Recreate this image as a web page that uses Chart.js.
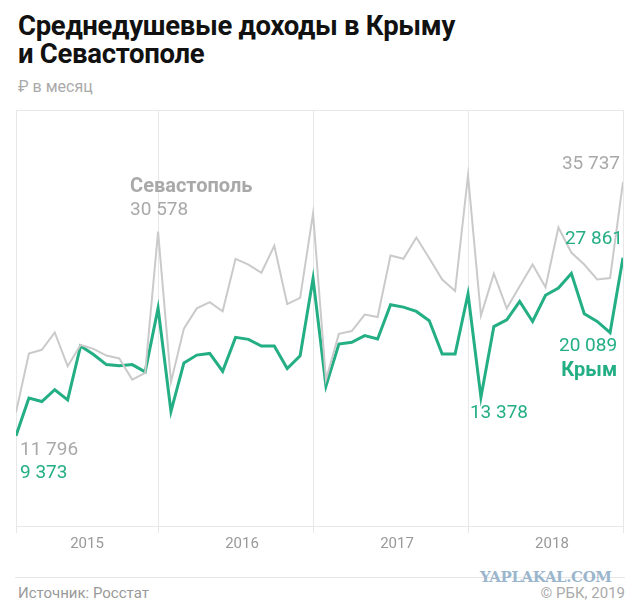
<!DOCTYPE html>
<html lang="ru">
<head>
<meta charset="utf-8">
<script src="https://cdn.jsdelivr.net/npm/chart.js@4"></script>
<style>
  body { margin: 0; background: #fff; font-family: Roboto, "Noto Sans", sans-serif; }
  #wrap { position: relative; width: 640px; height: 612px; overflow: hidden; }
  #title { position: absolute; left: 18px; top: 12px; font-size: 27.5px; font-weight: 700; line-height: 28px; color: #111; letter-spacing: -0.3px; }
  #sub { position: absolute; left: 18px; top: 77px; font-size: 16px; color: #aaa; }
  #chartBox { position: absolute; left: 0; top: 100px; width: 640px; height: 458px; }
  #sep { position: absolute; left: 15px; top: 577px; width: 610px; height: 1px; background: #e6e6e6; }
  #src { position: absolute; left: 18px; top: 584px; font-size: 15px; color: #999; }
  #copy { position: absolute; right: 15px; top: 584px; font-size: 15px; color: #aaa; }
  #wm { position: absolute; left: 480px; top: 568px; font-size: 15px; font-weight: 700; color: #9bb6cc; font-family: "DejaVu Serif", serif; letter-spacing: -0.4px; }
</style>
</head>
<body>
<div id="wrap">
  <div id="title">Среднедушевые доходы в Крыму<br>и Севастополе</div>
  <div id="sub">₽ в месяц</div>
  <div id="chartBox"><canvas id="chart" width="640" height="458"></canvas></div>
  <div id="sep"></div>
  <div id="src">Источник: Росстат</div>
  <div id="wm">YAPLAKAL.COM</div>
  <div id="copy">© РБК, 2019</div>
</div>
<script>
// помесячно, январь 2015 — декабрь 2018
var years = ['2015', '2016', '2017', '2018'];
var sevastopol = [
  11796, 17900, 18300, 20100, 16600, 18800, 18400, 17700, 17400, 15200, 15900, 30578,
  14950, 20500, 22600, 23250, 22300, 27750, 27150, 26300, 29100, 23050, 23700, 32450,
  15200, 19950, 20250, 21950, 21700, 28100, 27750, 29950, 27800, 25600, 24400, 36400,
  21850, 26200, 22600, 24900, 27150, 24800, 31000, 28400, 27150, 25600, 25750, 35737
];
var crimea = [
  9373, 13280, 12930, 14150, 13100, 18690, 17800, 16760, 16630, 16760, 16000, 22630,
  11890, 16940, 17750, 17920, 16070, 19590, 19380, 18690, 18690, 16350, 17680, 25700,
  14540, 18900, 19070, 19770, 19420, 22980, 22730, 22280, 21310, 17850, 17850, 24100,
  13378, 20710, 21410, 23330, 21240, 23960, 24720, 26230, 22040, 21240, 20089, 27861
];

var green = '#24ae84';
var grayLine = '#cacaca';
var grayText = '#a9a9a9';

function pts(arr) {
  return arr.map(function(v, i) { return { x: i, y: v }; });
}

// подписи у точек
var notes = [
  { ds: 0, i: 11, text: 'Севастополь', dx: -28, dy: -45, align: 'left', bold: true, color: grayText },
  { ds: 0, i: 11, text: '30 578', dx: -28, dy: -21, align: 'left', color: grayText },
  { ds: 0, i: 47, text: '35 737', dx: -3, dy: -18, align: 'right', color: grayText },
  { ds: 1, i: 47, text: '27 861', dx: 0, dy: -18, align: 'right', color: green },
  { ds: 1, i: 46, text: '20 089', dx: 7, dy: 14, align: 'right', color: green },
  { ds: 1, i: 46, text: 'Крым', dx: 7, dy: 38, align: 'right', bold: true, color: green },
  { ds: 1, i: 36, text: '13 378', dx: -11, dy: 16, align: 'left', color: green },
  { ds: 0, i: 0, text: '11 796', dx: 4, dy: 38, align: 'left', color: grayText },
  { ds: 1, i: 0, text: '9 373', dx: 4, dy: 38, align: 'left', color: green }
];

var notesPlugin = {
  id: 'notes',
  afterDatasetsDraw: function(chart) {
    var ctx = chart.ctx;
    var xs = chart.scales.x, ys = chart.scales.y;
    ctx.save();
    ctx.textBaseline = 'middle';
    notes.forEach(function(n) {
      var v = chart.data.datasets[n.ds].data[n.i];
      var px = xs.getPixelForValue(v.x) + n.dx;
      var py = ys.getPixelForValue(v.y) + n.dy;
      ctx.font = n.bold ? '700 20px Roboto' : '400 19px Roboto';
      ctx.fillStyle = n.color;
      ctx.textAlign = n.align;
      ctx.fillText(n.text, px, py);
    });
    ctx.restore();
  }
};

new Chart(document.getElementById('chart'), {
  type: 'line',
  data: {
    datasets: [
      { label: 'Севастополь', data: pts(sevastopol), borderColor: grayLine, borderWidth: 2, pointRadius: 0, tension: 0 },
      { label: 'Крым', data: pts(crimea), borderColor: green, borderWidth: 3, pointRadius: 0, tension: 0 }
    ]
  },
  options: {
    responsive: false,
    animation: false,
    layout: { padding: { left: 16, right: 17, top: 10, bottom: 3 } },
    plugins: { legend: { display: false }, tooltip: { enabled: false } },
    scales: {
      x: {
        type: 'linear', min: 0, max: 47, position: 'bottom',
        afterBuildTicks: function(axis) {
          axis.ticks = [0, 11, 23, 35, 47].map(function(v) { return { value: v }; });
        },
        ticks: { display: false },
        grid: { color: '#e8e8e8', drawTicks: true, tickLength: 7 },
        border: { display: true, color: '#e8e8e8' }
      },
      years: {
        type: 'linear', min: 0, max: 47, position: 'bottom',
        afterBuildTicks: function(axis) {
          axis.ticks = [5.5, 17.5, 29.5, 41.5].map(function(v) { return { value: v }; });
        },
        ticks: {
          padding: 2, color: '#999', font: { size: 15, family: 'Roboto' },
          maxRotation: 0, autoSkip: false,
          callback: function(value, index) { return years[index]; }
        },
        grid: { display: false, drawTicks: false },
        border: { display: false }
      },
      y: {
        min: 0, max: 43200,
        afterBuildTicks: function(axis) {
          axis.ticks = [{ value: 0 }, { value: 43200 }];
        },
        ticks: { display: false },
        grid: { color: '#e8e8e8', drawTicks: false },
        border: { display: false }
      }
    }
  },
  plugins: [notesPlugin]
});
</script>
</body>
</html>
